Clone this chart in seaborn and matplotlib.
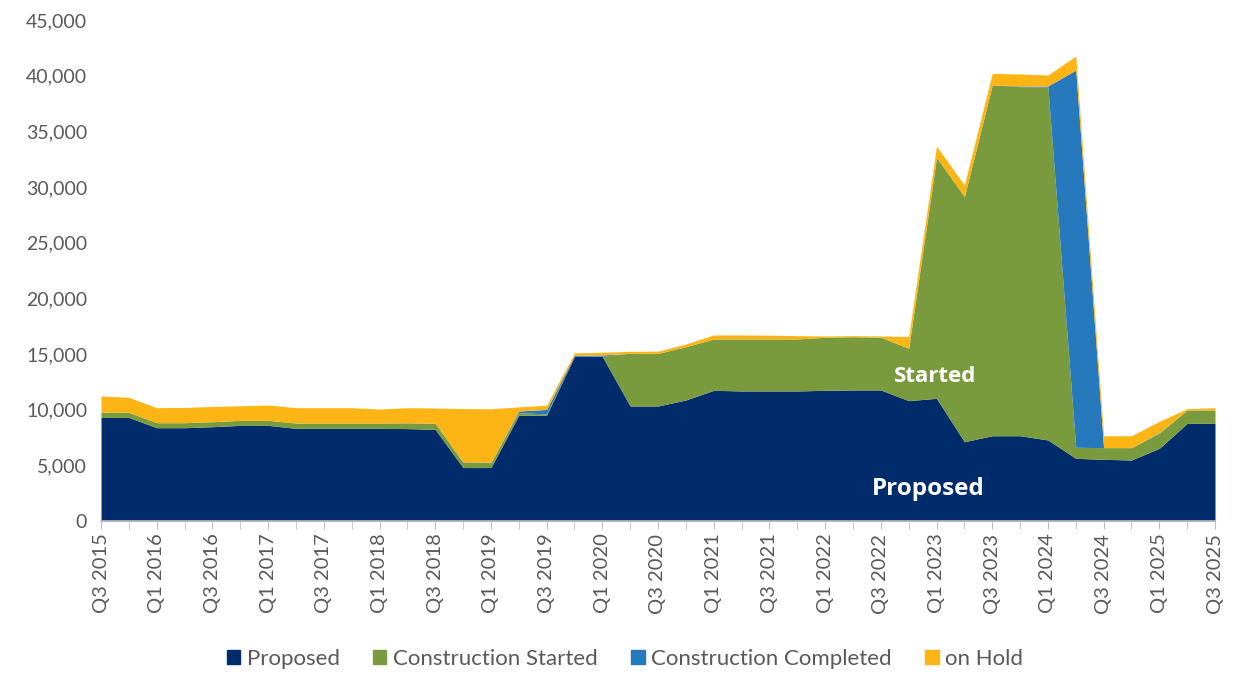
import numpy as np
import pandas as pd
import seaborn as sns
import matplotlib.pyplot as plt
from matplotlib.ticker import FuncFormatter, FixedLocator
from matplotlib.patches import Patch

#quarters Q3 2015 .. Q3 2025
quarters = []
for yr in range(2015, 2026):
    for q in range(1, 5):
        if (yr == 2015 and q < 3) or (yr == 2025 and q > 3):
            continue
        quarters.append(f"Q{q} {yr}")

proposed = [9300, 9300, 8380, 8380, 8470, 8590, 8590, 8320, 8320, 8320,
            8320, 8300, 8230, 4800, 4800, 9500, 9520, 14780, 14780, 10330,
            10330, 10870, 11740, 11680, 11680, 11680, 11740, 11770, 11770, 10810,
            11020, 7120, 7660, 7660, 7280, 5630, 5540, 5480, 6530, 8770,
            8770]
started = [480, 460, 450, 450, 450, 450, 450, 480, 480, 480,
           480, 520, 540, 470, 440, 230, 100, 20, 30, 4730,
           4730, 4790, 4610, 4670, 4670, 4670, 4760, 4780, 4740, 4700,
           21650, 22010, 31500, 31350, 31700, 990, 1050, 1110, 1350, 1200,
           1200]
completed = [0, 0, 0, 0, 0, 0, 0, 0, 0, 0,
             0, 0, 0, 30, 30, 150, 400, 100, 100, 0,
             0, 0, 0, 0, 0, 0, 0, 0, 0, 0,
             0, 0, 0, 60, 90, 33890, 0, 0, 50, 0,
             0]
on_hold = [1450, 1350, 1350, 1370, 1370, 1310, 1380, 1380, 1380, 1380,
           1260, 1360, 1380, 4800, 4810, 370, 380, 200, 250, 180,
           200, 240, 360, 360, 340, 300, 120, 100, 110, 1060,
           1010, 1050, 1050, 1080, 990, 1260, 1070, 1070, 1020, 120,
           210]

df = pd.DataFrame({"Quarter": quarters, "Proposed": proposed,
                   "Construction Started": started,
                   "Construction Completed": completed, "on Hold": on_hold})

sns.set_style("white")
plt.rcParams['font.family'] = ['Lato', 'DejaVu Sans']
colors = ["#002C6C", "#7A9A3E", "#2779BD", "#FDB515"]
series = ["Proposed", "Construction Started", "Construction Completed", "on Hold"]

fig = plt.figure(figsize=(12.34, 6.73), dpi=100)
ax = fig.add_axes([101/1234, 1-521/673, (1215-101)/1234, (521-20)/673])
x = np.arange(len(df))
ax.stackplot(x, *[df[s] for s in series], colors=colors, linewidth=0)

ax.set_xlim(0, len(df)-1)
ax.set_ylim(0, 45000)
ax.yaxis.set_major_locator(FixedLocator(np.arange(0, 45001, 5000)))
ax.yaxis.set_major_formatter(FuncFormatter(lambda v, p: f"{int(v):,}"))
ax.set_xticks(x[::2])
ax.set_xticklabels(df["Quarter"][::2], rotation=90)
ax.set_xticks(x, minor=True)
ax.tick_params(axis='x', which='both', length=6, color="#BFBFBF", direction='out',
               bottom=True, labelsize=14.5, labelcolor="#595959", pad=3)
ax.tick_params(axis='y', length=0, labelsize=14, labelcolor="#595959", pad=10)
sns.despine(ax=ax, left=True)
ax.spines['bottom'].set_color("#BFBFBF")
ax.spines['bottom'].set_linewidth(1.2)

ax.text(29.95, 13000, "Started", color="white", fontsize=16, fontweight="bold",
        family="Open Sans", ha="center", va="center")
ax.text(29.7, 2850, "Proposed", color="white", fontsize=17.5, fontweight="bold",
        family="Open Sans", ha="center", va="center")

handles = [Patch(color=c, label=s) for c, s in zip(colors, series)]
fig.legend(handles=handles, loc="center", bbox_to_anchor=(625/1234, 1-659/673),
           ncol=4, frameon=False, fontsize=16, handlelength=0.6, handleheight=0.6,
           columnspacing=1.5, handletextpad=0.3, labelcolor="#595959")

fig.savefig("out.png", dpi=100)
